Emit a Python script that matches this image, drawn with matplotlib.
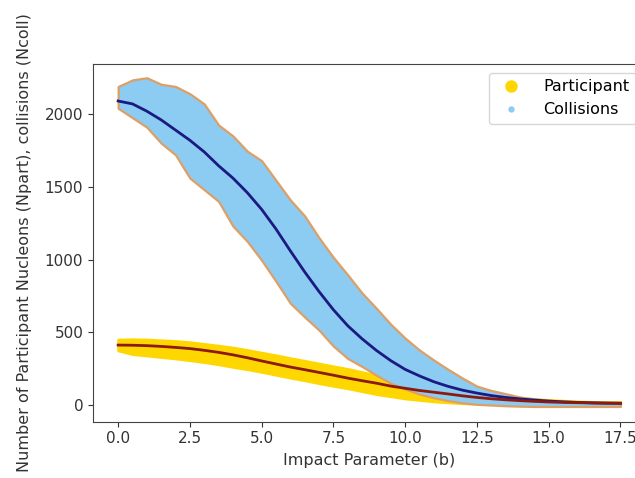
import matplotlib
matplotlib.use("Agg")
import matplotlib.pyplot as plt
from matplotlib.lines import Line2D

# impact parameter grid used for the read-off envelopes and fits
b_grid = [0.0, 0.5, 1.0, 1.5, 2.0, 2.5, 3.0, 3.5, 4.0, 4.5, 5.0, 5.5,
          6.0, 6.5, 7.0, 7.5, 8.0, 8.5, 9.0, 9.5, 10.0, 10.5, 11.0, 11.5,
          12.0, 12.5, 13.0, 13.5, 14.0, 14.5, 15.0, 15.5, 16.0, 16.5, 17.0, 17.5]

# collisions (Ncoll) scatter cloud, upper / lower edge
ncoll_upper = [2190, 2235, 2250, 2205, 2190, 2140, 2070, 1925, 1850, 1745, 1680, 1545,
               1410, 1300, 1150, 1015, 895, 770, 665, 555, 460, 378, 309, 245,
               185, 130, 100, 78, 55, 42, 33, 26, 21, 18, 15, 14]
ncoll_lower = [2040, 1975, 1910, 1800, 1720, 1560, 1480, 1400, 1230, 1125, 995, 850,
               700, 605, 515, 405, 320, 265, 205, 150, 110, 75, 50, 30,
               15, 5, 0, -5, -8, -10, -10, -10, -10, -10, -10, -10]

# participants (Npart) scatter cloud, upper / lower edge
npart_upper = [450, 452, 450, 445, 440, 432, 420, 408, 395, 378, 360, 342,
               322, 304, 285, 266, 248, 226, 205, 188, 170, 150, 130, 112,
               95, 82, 70, 60, 50, 42, 35, 30, 25, 22, 20, 20]
npart_lower = [375, 350, 340, 330, 320, 308, 295, 280, 262, 246, 228, 208,
               188, 170, 150, 132, 115, 95, 75, 60, 45, 35, 25, 18,
               12, 8, 5, 3, 2, 1, 0, 0, 0, 0, 0, 0]

# fitted curves
ncoll_fit = [2090, 2070, 2020, 1960, 1890, 1820, 1740, 1645, 1560, 1460, 1345, 1210,
             1060, 915, 780, 655, 545, 455, 375, 305, 245, 200, 160, 128,
             102, 82, 65, 52, 42, 34, 27, 22, 18, 15, 13, 12]
npart_fit = [412, 411, 408, 403, 396, 388, 376, 362, 345, 325, 303, 282,
             261, 243, 224, 205, 185, 167, 150, 130, 115, 100, 88, 76,
             63, 52, 43, 36, 30, 25, 21, 18, 16, 14, 13, 12]

x_ticks = [0.0, 2.5, 5.0, 7.5, 10.0, 12.5, 15.0, 17.5]
y_ticks = [0, 500, 1000, 1500, 2000]

fig = plt.figure(figsize=(6.35, 4.78), dpi=100)
ax = fig.add_axes([0.1465, 0.118, 0.87, 0.748])

ax.fill_between(b_grid, npart_lower, npart_upper, color="gold", lw=2, zorder=2)
ax.fill_between(b_grid, ncoll_lower, ncoll_upper, facecolor="#8ccbf2",
                edgecolor="#dca066", lw=1.6, zorder=3)
ax.plot(b_grid, ncoll_fit, color="#1a1a80", lw=2, zorder=4)
ax.plot(b_grid, npart_fit, color="#8b1a10", lw=2, zorder=5)

ax.set_xlim(-0.875, 18.375)
ax.set_ylim(-114, 2344)
ax.set_xticks(x_ticks)
ax.set_yticks(y_ticks)
ax.tick_params(labelsize=11, colors="#333333")
for s in ax.spines.values():
    s.set_color("#444444")

ax.set_xlabel("Impact Parameter (b)", fontsize=11.5, color="#333333", labelpad=5)
ax.set_ylabel("Number of Participant Nucleons (Npart), collisions (Ncoll)",
              fontsize=11.5, color="#333333", labelpad=9)

handles = [Line2D([], [], ls="", marker="o", ms=8, color="gold"),
           Line2D([], [], ls="", marker="o", ms=3.5, color="#8ccbf2")]
ax.legend(handles, ["Participant", "Collisions"], loc="upper left",
          bbox_to_anchor=(0.717, 0.975), borderaxespad=0, fontsize=11.5,
          handletextpad=1.0)

fig.savefig("out.png", dpi=100)
